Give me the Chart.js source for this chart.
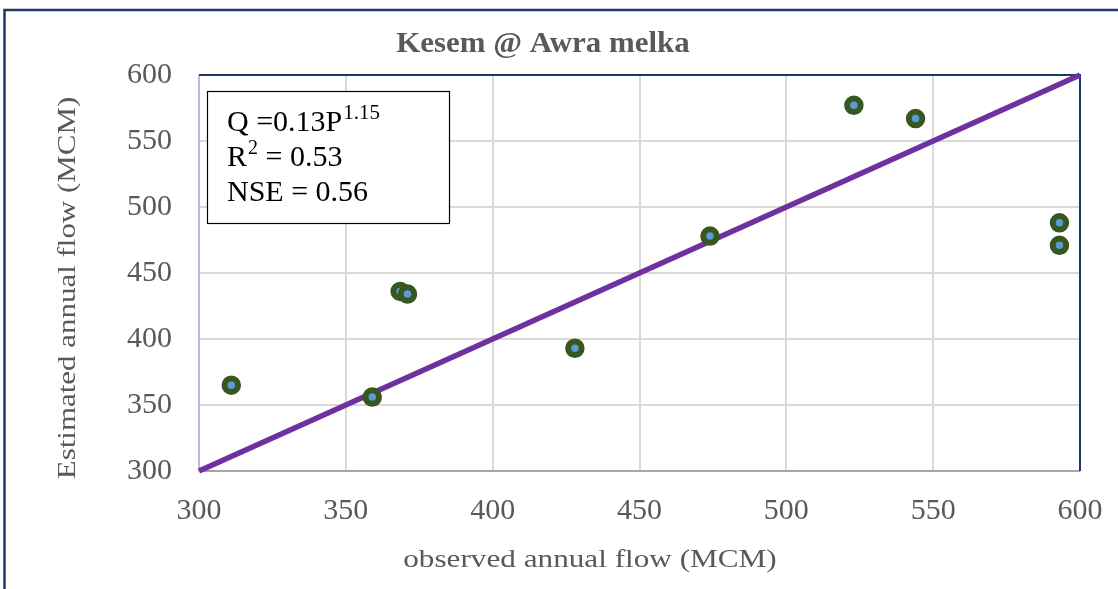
<!DOCTYPE html>
<html>
<head>
<meta charset="utf-8">
<script src="https://cdn.jsdelivr.net/npm/chart.js@4.4.1/dist/chart.umd.min.js"></script>
<style>
  html, body { margin: 0; padding: 0; background: #ffffff; }
  #wrap { width: 1118px; height: 589px; position: relative; }
</style>
</head>
<body>
<div id="wrap"><canvas id="c" width="1118" height="589"></canvas></div>
<script>
// ---- data ----
const chartTitle = 'Kesem @ Awra melka';
const xAxisTitle = 'observed annual flow (MCM)';
const yAxisTitle = 'Estimated annual flow (MCM)';
const observed  = [311, 359, 368.5, 371, 428, 474, 523, 544, 593, 593];
const estimated = [365, 356, 436, 434, 393, 478, 577, 567, 488, 471];
const lineX = [300, 600];
const lineY = [300, 600];
const xTickLabels = ['300', '350', '400', '450', '500', '550', '600'];
const yTickLabels = ['300', '350', '400', '450', '500', '550', '600'];
const eqBase = 'Q =0.13P';
const eqExp = '1.15';
const r2Base = 'R';
const r2Exp = '2';
const r2Rest = ' = 0.53';
const nseText = 'NSE = 0.56';

const scatterPts = observed.map((x, i) => ({ x: x, y: estimated[i] }));
const linePts = lineX.map((x, i) => ({ x: x, y: lineY[i] }));

const SERIF = '"Liberation Serif", "Times New Roman", serif';
const GRAY = '#595959';
const NAVY = '#1F3864';

function stretchText(ctx, text, x, y, font, sx, align, rot) {
  ctx.save();
  ctx.translate(x, y);
  if (rot) ctx.rotate(rot);
  ctx.scale(sx, 1);
  ctx.font = font;
  ctx.textAlign = align || 'center';
  ctx.textBaseline = 'alphabetic';
  ctx.fillText(text, 0, 0);
  ctx.restore();
}

const decor = {
  id: 'decor',
  beforeDatasetsDraw(chart) {
    const ctx = chart.ctx, a = chart.chartArea;
    ctx.save();
    ctx.lineWidth = 2;
    ctx.strokeStyle = '#B4C0D8';
    ctx.beginPath();
    ctx.moveTo(a.left, a.top);
    ctx.lineTo(a.left, a.bottom);
    ctx.stroke();
    ctx.strokeStyle = '#A6A6A6';
    ctx.beginPath();
    ctx.moveTo(a.left, a.bottom);
    ctx.lineTo(a.right, a.bottom);
    ctx.stroke();
    ctx.strokeStyle = NAVY;
    ctx.beginPath();
    ctx.moveTo(a.left, a.top);
    ctx.lineTo(a.right, a.top);
    ctx.lineTo(a.right, a.bottom);
    ctx.stroke();
    ctx.restore();
  },
  afterDraw(chart) {
    const ctx = chart.ctx;
    ctx.save();
    // outer border
    ctx.strokeStyle = NAVY;
    ctx.lineWidth = 2.5;
    ctx.beginPath();
    ctx.moveTo(4.5, 589);
    ctx.lineTo(4.5, 10);
    ctx.lineTo(1118, 10);
    ctx.stroke();

    // title
    ctx.fillStyle = GRAY;
    stretchText(ctx, chartTitle, 543, 52, 'bold 30px ' + SERIF, 1.03, 'center');
    // axis titles
    stretchText(ctx, xAxisTitle, 590, 567, '26px ' + SERIF, 1.2, 'center');
    stretchText(ctx, yAxisTitle, 75, 288, '26px ' + SERIF, 1.19, 'center', -Math.PI / 2);

    // stats box
    ctx.fillStyle = '#ffffff';
    ctx.fillRect(207, 91, 242, 133);
    ctx.strokeStyle = '#000000';
    ctx.lineWidth = 1.2;
    ctx.strokeRect(207.5, 91.5, 242, 132);
    ctx.fillStyle = '#000000';
    ctx.textBaseline = 'alphabetic';
    ctx.textAlign = 'left';
    ctx.font = '30px ' + SERIF;
    ctx.fillText(eqBase, 227, 131);
    let w = ctx.measureText(eqBase).width;
    ctx.font = '21px ' + SERIF;
    ctx.fillText(eqExp, 227 + w + 1, 119);
    ctx.font = '30px ' + SERIF;
    ctx.fillText(r2Base, 227, 166);
    w = ctx.measureText(r2Base).width;
    ctx.font = '20px ' + SERIF;
    ctx.fillText(r2Exp, 227 + w + 1, 154);
    const w2 = ctx.measureText(r2Exp).width;
    ctx.font = '30px ' + SERIF;
    ctx.fillText(r2Rest, 227 + w + w2 + 1, 166);
    ctx.fillText(nseText, 227, 201);
    ctx.restore();
  }
};

new Chart(document.getElementById('c'), {
  type: 'scatter',
  data: {
    datasets: [
      {
        label: 'observed vs estimated',
        data: scatterPts,
        backgroundColor: '#5B9BD5',
        borderColor: '#38561F',
        borderWidth: 6,
        pointRadius: 6.75,
        pointHoverRadius: 6.75,
        order: 1
      },
      {
        label: '1:1',
        data: linePts,
        showLine: true,
        borderColor: '#7030A0',
        borderWidth: 5.5,
        pointRadius: 0,
        fill: false,
        clip: false,
        order: 2
      }
    ]
  },
  options: {
    responsive: false,
    animation: false,
    devicePixelRatio: 1,
    events: [],
    layout: { padding: { top: 75, right: 38, left: 0, bottom: 0 } },
    plugins: {
      legend: { display: false },
      title: { display: false },
      tooltip: { enabled: false }
    },
    scales: {
      x: {
        type: 'linear',
        min: 300, max: 600,
        afterFit(s) { s.height = 118; s.paddingLeft = 0; s.paddingRight = 0; },
        border: { display: false },
        grid: { color: '#D9D9D9', lineWidth: 2, drawTicks: false },
        ticks: {
          stepSize: 50,
          padding: 22,
          color: GRAY,
          font: { family: SERIF, size: 30 },
          callback: (v) => xTickLabels[Math.round((v - 300) / 50)]
        }
      },
      y: {
        type: 'linear',
        min: 300, max: 600,
        afterFit(s) { s.width = 199; s.paddingTop = 0; s.paddingBottom = 0; },
        border: { display: false },
        grid: { color: '#D9D9D9', lineWidth: 2, drawTicks: false },
        ticks: {
          stepSize: 50,
          padding: 27,
          color: GRAY,
          font: { family: SERIF, size: 30 },
          callback: (v) => yTickLabels[Math.round((v - 300) / 50)]
        }
      }
    }
  },
  plugins: [decor]
});
</script>
</body>
</html>
